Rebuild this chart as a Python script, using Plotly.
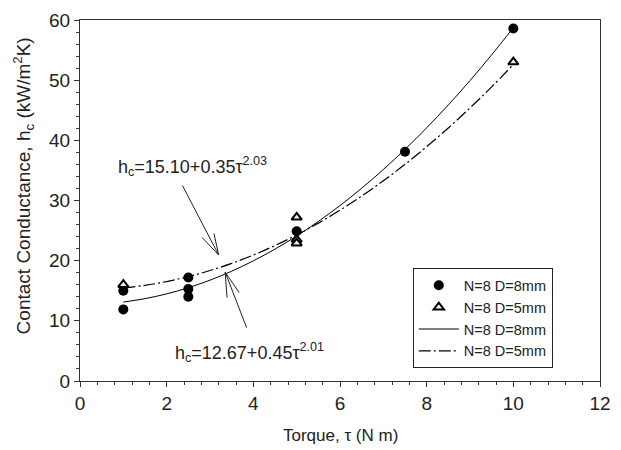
import plotly.graph_objects as go

# Measured points
d8_x = [1, 1, 2.5, 2.5, 2.5, 5, 7.5, 10]
d8_y = [15.0, 11.9, 17.2, 15.3, 14.0, 24.9, 38.1, 58.6]
d5_x = [1, 5, 5, 5, 10]
d5_y = [16.0, 27.2, 23.5, 22.9, 53.0]

# Fitted curves
fit_x = [1, 1.5, 2, 2.5, 3, 3.5, 4, 4.5, 5, 5.5, 6, 6.5, 7, 7.5, 8, 8.5, 9, 9.5, 10]
fit8_y = [13.12, 13.69, 14.48, 15.51, 16.76, 18.25, 19.97, 21.92, 24.10, 26.52,
          29.16, 32.04, 35.15, 38.50, 42.08, 45.89, 49.93, 54.21, 58.72]
fit5_y = [15.45, 15.90, 16.53, 17.35, 18.36, 19.55, 20.94, 22.51, 24.28, 26.24,
          28.39, 30.74, 33.28, 36.01, 38.94, 42.06, 45.38, 48.89, 52.60]

x_ticks = [0, 2, 4, 6, 8, 10, 12]
y_ticks = [0, 10, 20, 30, 40, 50, 60]

FONT = "Liberation Sans, Arial, sans-serif"
INK = "#222222"

fig = go.Figure()
fig.add_trace(go.Scatter(x=d8_x, y=d8_y, mode="markers", name="N=8 D=8mm",
                         marker=dict(symbol="circle", size=10, color="black")))
fig.add_trace(go.Scatter(x=d5_x, y=d5_y, mode="markers", name="N=8 D=5mm",
                         marker=dict(symbol="triangle-up", size=9, color="#eeeeee",
                                     line=dict(color="black", width=2))))
fig.add_trace(go.Scatter(x=fit_x, y=fit8_y, mode="lines", name="N=8 D=8mm",
                         line=dict(color="black", width=1, shape="spline")))
fig.add_trace(go.Scatter(x=fit_x, y=fit5_y, mode="lines", name="N=8 D=5mm",
                         line=dict(color="black", width=1.2, shape="spline",
                                   dash="12px,3px,2px,3px")))

ann = []
# equation texts
ann.append(dict(x=2.6, y=35.6, xref="x", yref="y", showarrow=False,
                text="h<sub>c</sub>=15.10+0.35τ<sup>2.03</sup>",
                font=dict(size=18, color=INK, family=FONT)))
ann.append(dict(x=3.92, y=4.7, xref="x", yref="y", showarrow=False,
                text="h<sub>c</sub>=12.67+0.45τ<sup>2.01</sup>",
                font=dict(size=18, color=INK, family=FONT)))

# arrows: main shafts and open heads (pixel offsets from tip)
def arrow(tx, ty, offsets):
    for ax, ay in offsets:
        ann.append(dict(x=tx, y=ty, xref="x", yref="y", ax=ax, ay=ay,
                        text="", showarrow=True, arrowhead=0,
                        arrowwidth=1, arrowcolor=INK))

arrow(3.20, 20.94, [(-37, -71), (-18, -19), (-5, -23)])
arrow(3.35, 18.1, [(22, 57), (2, 27), (15, 22)])

# axis titles
ann.append(dict(x=0.5, y=-0.152, xref="paper", yref="paper", showarrow=False,
                text="Torque, τ (N m)", xanchor="center", yanchor="middle",
                font=dict(size=17, color=INK, family=FONT)))
ann.append(dict(x=-0.109, y=0.54, xref="paper", yref="paper", showarrow=False,
                text="Contact Conductance, h<sub>c</sub> (kW/m<sup>2</sup>K)",
                textangle=-90, xanchor="center", yanchor="middle",
                font=dict(size=19, color=INK, family=FONT)))

fig.update_layout(
    width=621, height=450,
    margin=dict(l=80, r=10, t=13, b=69),
    paper_bgcolor="white", plot_bgcolor="white",
    font=dict(family=FONT, color=INK, size=17),
    showlegend=True,
    legend=dict(x=0.64, y=0.312, xanchor="left", yanchor="top",
                bordercolor="#222222", borderwidth=1, bgcolor="white",
                font=dict(size=14.5, color=INK, family=FONT),
                tracegroupgap=0, itemwidth=40),
    annotations=ann,
)
fig.update_xaxes(range=[0, 12], tickvals=x_ticks, ticktext=[str(v) for v in x_ticks],
                 showgrid=False, zeroline=False, showline=True, linecolor="#333333",
                 linewidth=1, mirror=True, ticks="outside", ticklen=5, tickcolor="#333333",
                 tickfont=dict(size=19, color=INK, family=FONT),
                 minor=dict(dtick=0.4, ticks="outside", ticklen=3, tickcolor="#333333", showgrid=False))
fig.update_yaxes(range=[0, 60], tickvals=y_ticks, ticktext=[str(v) for v in y_ticks],
                 showgrid=False, zeroline=False, showline=True, linecolor="#333333",
                 linewidth=1, mirror=True, ticks="outside", ticklen=5, tickcolor="#333333",
                 tickfont=dict(size=19, color=INK, family=FONT),
                 minor=dict(dtick=2, ticks="outside", ticklen=3, tickcolor="#333333", showgrid=False))

fig.write_html("out.html", config={"displayModeBar": False},
               post_script="document.body.style.margin='0';document.body.style.overflow='hidden';")
